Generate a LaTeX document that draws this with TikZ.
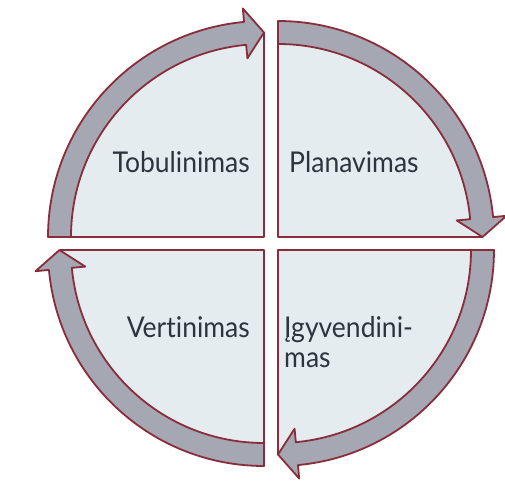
\documentclass[tikz,border=0pt]{standalone}
\usepackage{fontspec}
\setmainfont{Lato}[Ligatures={NoCommon}]
\definecolor{edgered}{HTML}{8A2D3B}
\definecolor{bandgray}{HTML}{A5A7B3}
\definecolor{lightfill}{HTML}{E5ECF0}
\definecolor{txtcol}{HTML}{2C343C}
\newcommand\quadrantpart[3]{%
  \begin{scope}[shift={(#1,#2)}]
    \pgfmathsetmacro\qdA{#3}
    \pgfmathsetmacro\qdB{#3-84.7}
    \pgfmathsetmacro\qdC{#3-90}
    \fill[lightfill] (0,0) -- (\qdA:204.5) arc[start angle=\qdA, end angle=\qdC, radius=204.5] -- cycle;
    \draw[edge] (\qdA:193) -- (0,0) -- (\qdC:204.5);
    \draw[band] (\qdA:216) arc[start angle=\qdA, end angle=\qdB, radius=216]
      -- (\qdB:229.5) -- (\qdC:204.5) -- (\qdB:179.5) -- (\qdB:193)
      arc[start angle=\qdB, end angle=\qdA, radius=193] -- cycle;
  \end{scope}}
\newcommand\tallword[1]{\scalebox{1}[1.08]{#1}}
\begin{document}
\begin{tikzpicture}[x=1pt,y=1pt,
  edge/.style={draw=edgered, line width=1.8pt, line join=round},
  band/.style={edge, fill=bandgray},
  lbl/.style={font=\fontsize{26.5}{30}\selectfont, text=txtcol, inner sep=0pt}]
\useasboundingbox (0,0) rectangle (505,490);
\fill[white] (0,0) rectangle (505,490);
\quadrantpart{264}{253}{180}
\quadrantpart{278}{253}{90}
\quadrantpart{278}{240}{0}
\quadrantpart{264}{240}{270}
\node[lbl, anchor=base east] (tob) at (250,317) {\tallword{Tobulinimas}};
\node[lbl, anchor=base west] (plan) at (289,317) {\tallword{Planavimas}};
\node[lbl, anchor=base east] (vert) at (250,153) {\tallword{Vertinimas}};
\node[lbl, anchor=base west, align=left] (igyv) at (284,123) {\tallword{Įgyvendini-}\\\tallword{mas}};
\end{tikzpicture}
\end{document}
